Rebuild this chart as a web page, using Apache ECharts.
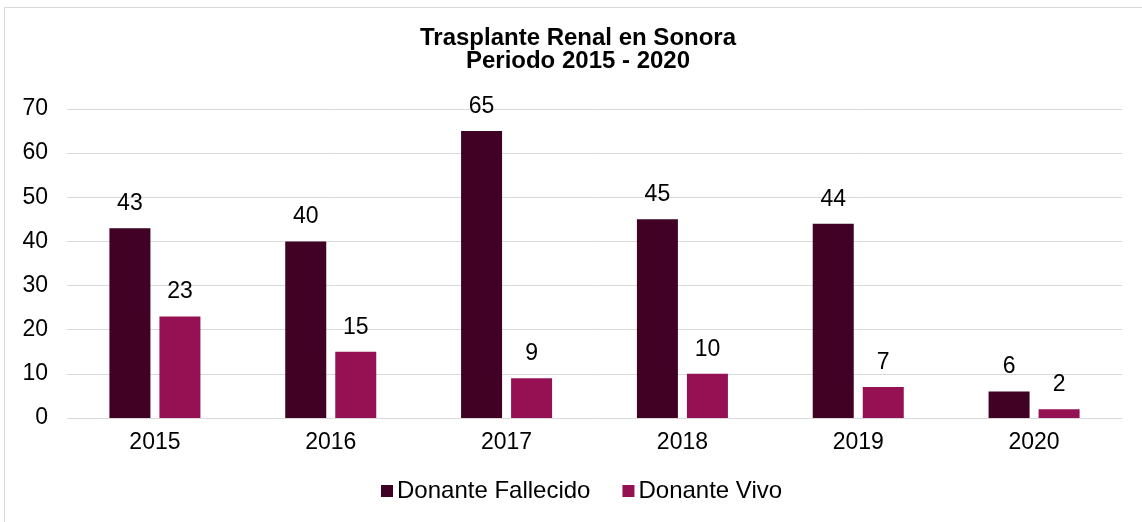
<!DOCTYPE html>
<html>
<head>
<meta charset="utf-8">
<script src="https://cdn.jsdelivr.net/npm/echarts@6/dist/echarts.min.js"></script>
<style>
html,body{margin:0;padding:0;background:#fff;}
#chart{width:1142px;height:522px;}
</style>
</head>
<body>
<div id="chart"></div>
<script>
const categories = ['2015', '2016', '2017', '2018', '2019', '2020'];
const fallecido = [43, 40, 65, 45, 44, 6];
const vivo = [23, 15, 9, 10, 7, 2];
const seriesNames = ['Donante Fallecido', 'Donante Vivo'];
const titleText = 'Trasplante Renal en Sonora\nPeriodo 2015 - 2020';

const FONT = '"Liberation Sans", Arial, Helvetica, sans-serif';
const FS = 23;
const chart = echarts.init(document.getElementById('chart'));
const labelStyle = {show: true, position: 'top', distance: 13, color: '#000', fontSize: FS, fontFamily: FONT};
chart.setOption({
  animation: false,
  backgroundColor: '#fff',
  textStyle: {fontFamily: FONT},
  graphic: [{
    type: 'rect', silent: true, z: -1,
    shape: {x: 4.5, y: 7.5, width: 1200, height: 600},
    style: {fill: 'none', stroke: '#d9d9d9', lineWidth: 1}
  }],
  title: {
    text: titleText,
    left: 578, top: 27,
    textAlign: 'center',
    padding: 0,
    textStyle: {fontSize: 24, fontWeight: 'bold', color: '#000', lineHeight: 23, fontFamily: FONT}
  },
  legend: {
    data: seriesNames,
    bottom: 19,
    left: 381,
    padding: 0,
    itemWidth: 12, itemHeight: 12, itemGap: 32,
    icon: 'rect',
    textStyle: {fontSize: 24, color: '#000', fontFamily: FONT, padding: [0,0,0,-1]}
  },
  grid: {left: 67, right: 20, top: 109, bottom: 104, containLabel: false},
  xAxis: {
    type: 'category',
    data: categories,
    axisLine: {lineStyle: {color: '#d9d9d9', width: 1}},
    axisTick: {show: false},
    axisLabel: {color: '#000', fontSize: FS, margin: 13, fontFamily: FONT}
  },
  yAxis: {
    type: 'value',
    min: 0, max: 70, interval: 10,
    axisLine: {show: false},
    axisTick: {show: false},
    axisLabel: {color: '#000', fontSize: FS, margin: 19, fontFamily: FONT},
    splitLine: {lineStyle: {color: '#d9d9d9', width: 1}}
  },
  series: [
    {name: seriesNames[0], type: 'bar', data: fallecido, barWidth: 41, barGap: '22%',
     itemStyle: {color: '#400124'}, label: labelStyle},
    {name: seriesNames[1], type: 'bar', data: vivo, barWidth: 41, barGap: '22%',
     itemStyle: {color: '#961153'}, label: labelStyle}
  ]
});
</script>
</body>
</html>
